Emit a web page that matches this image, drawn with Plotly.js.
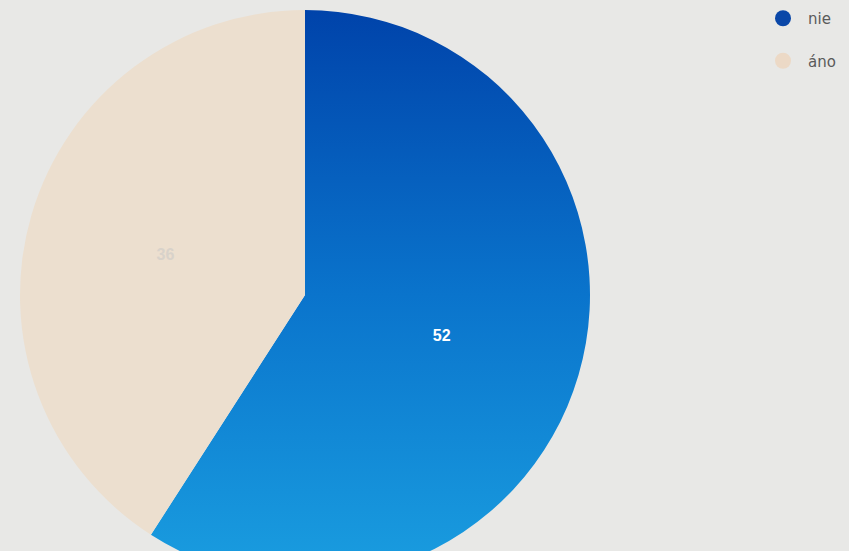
<!DOCTYPE html>
<html>
<head>
<meta charset="utf-8">
<script src="https://cdn.plot.ly/plotly-3.0.1.min.js"></script>
<style>
html, body { margin:0; padding:0; overflow:hidden; background:#e8e8e6; }
#chart { width:849px; height:620px; }
</style>
</head>
<body>
<div id="chart"></div>
<script>
const labels = ['nie', 'áno'];
const values = [52, 36];
const sliceColors = ['#0a6cc9', '#ecdfcf'];
const legendColors = ['#0a47a8', '#ecd9c6'];
const textColors = ['#ffffff', '#d8d2ca'];
const blueGradient = ['#0043aa', '#0a74cc', '#1a9ee0'];

const W = 849, H = 620;
const cx = 305, cy = 295, R = 285;
const pie = {
  type: 'pie',
  labels: labels,
  values: values,
  sort: false,
  direction: 'clockwise',
  rotation: 0,
  textinfo: 'value',
  textposition: 'inside',
  insidetextorientation: 'horizontal',
  textfont: { family: 'Liberation Sans, Arial, sans-serif', size: 16, color: textColors, weight: 'bold' },
  marker: { colors: sliceColors, line: { width: 0 } },
  showlegend: false,
  hoverinfo: 'label+value',
  domain: { x: [(cx - R) / W, (cx + R) / W], y: [1 - (cy + R) / H, 1 - (cy - R) / H] }
};

const legendTraces = labels.map((l, i) => ({
  type: 'scatter',
  x: [null], y: [null],
  mode: 'markers',
  name: l,
  legendgroup: 'g' + i,
  marker: { symbol: 'circle', size: 17, color: legendColors[i] },
  showlegend: true,
  hoverinfo: 'skip'
}));

const layout = {
  width: W, height: H,
  margin: { l: 0, r: 0, t: 0, b: 0 },
  paper_bgcolor: '#e8e8e6',
  plot_bgcolor: 'rgba(0,0,0,0)',
  xaxis: { visible: false },
  yaxis: { visible: false },
  showlegend: true,
  legend: {
    x: 758 / W, xanchor: 'left',
    y: 1 - 2 / H, yanchor: 'top',
    bgcolor: 'rgba(0,0,0,0)',
    itemwidth: 40,
    tracegroupgap: 20,
    font: { family: 'DejaVu Sans, sans-serif', size: 15, color: '#5a5a5a' }
  }
};

Plotly.newPlot('chart', [pie].concat(legendTraces), layout, { displayModeBar: false, staticPlot: true }).then(gd => {
  // vertical colour gradient on the "nie" slice, as in the reference
  const svg = gd.querySelector('svg.main-svg');
  const ns = 'http://www.w3.org/2000/svg';
  let defs = svg.querySelector('defs');
  if (!defs) { defs = document.createElementNS(ns, 'defs'); svg.insertBefore(defs, svg.firstChild); }
  const grad = document.createElementNS(ns, 'linearGradient');
  grad.setAttribute('id', 'nieGrad');
  grad.setAttribute('x1', '0'); grad.setAttribute('y1', '0');
  grad.setAttribute('x2', '0'); grad.setAttribute('y2', '1');
  blueGradient.forEach((c, i) => {
    const s = document.createElementNS(ns, 'stop');
    s.setAttribute('offset', String(i / (blueGradient.length - 1)));
    s.setAttribute('stop-color', c);
    grad.appendChild(s);
  });
  defs.appendChild(grad);
  const slices = gd.querySelectorAll('g.slice path.surface');
  if (slices.length) slices[0].style.fill = 'url(#nieGrad)';
});
</script>
</body>
</html>
